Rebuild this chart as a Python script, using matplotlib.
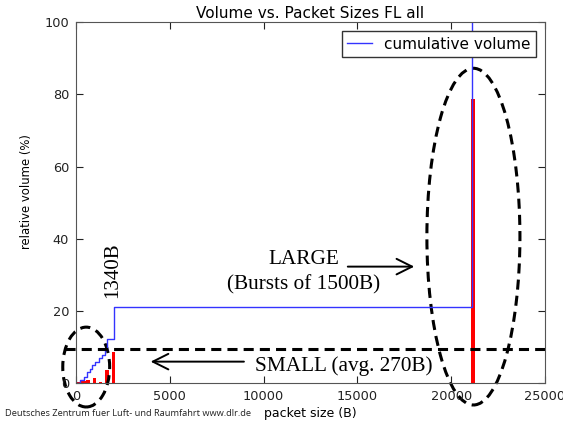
import matplotlib
matplotlib.use('Agg')
import matplotlib.pyplot as plt
from matplotlib.patches import Ellipse

# packet size histogram (relative volume per bin, %)
bar_x = [100, 290, 460, 625, 980, 1300, 1645, 2000, 21180]
bar_h = [0.3, 0.7, 0.7, 0.9, 1.5, 0.3, 3.6, 8.8, 78.8]
bar_w = 200

# cumulative volume (%), step positions
cum_x = [0, 50, 235, 411, 587, 720, 854, 1035, 1211, 1387, 1569, 1654, 2012, 21100]
cum_y = [0, 0.2, 0.9, 1.8, 3.2, 4.1, 5.1, 6.0, 6.9, 7.8, 9.2, 12.2, 21.0, 100]

small_thr = 9.6

fig = plt.figure(figsize=(5.63, 4.32), dpi=100)
ax = fig.add_axes([0.135, 0.1127, 0.833, 0.8363])

ax.bar(bar_x, bar_h, width=bar_w, color='red', edgecolor='none', align='center')
ax.plot(cum_x, cum_y, color='#3333ff', lw=1.0, drawstyle='steps-post', label='cumulative volume')

ax.set_xlim(0, 25000)
ax.set_ylim(0, 100)
ax.set_xticks([0, 5000, 10000, 15000, 20000, 25000])
ax.set_yticks([0, 20, 40, 60, 80, 100])
ax.tick_params(direction='in', top=True, right=True, length=5, labelsize=9.3, colors='#222222', pad=5)
for sp in ax.spines.values():
    sp.set_color('#555555')
ax.set_title('Volume vs. Packet Sizes FL all', fontsize=11, pad=3)
ax.set_xlabel('packet size (B)', fontsize=9, labelpad=3)
ax.set_ylabel('relative volume (%)', fontsize=8.4)
ax.yaxis.set_label_coords(-0.092, 0.53)
leg = ax.legend(loc='upper right', fontsize=11, fancybox=False, framealpha=1, handlelength=1.6,
                borderaxespad=0.6, borderpad=0.35)
leg.get_frame().set_edgecolor('#333333')

# annotations
serif = 'Liberation Serif'
ax.plot([-600, 25000], [small_thr, small_thr], color='black', lw=2.2, dashes=(3.3, 2), clip_on=False)
ax.add_patch(Ellipse((21185, 40.6), 4960, 93.2, fill=False, ec='black', lw=2.2,
                     ls=(0, (3.3, 2)), clip_on=False))
ax.add_patch(Ellipse((544, 4.5), 2500, 22.1, angle=0, fill=False, ec='black', lw=2.2,
                     ls=(0, (3.3, 2)), clip_on=False))
ax.text(12150, 34.4, 'LARGE', family=serif, fontsize=15.3, ha='center', va='center')
ax.text(12150, 27.2, '(Bursts of 1500B)', family=serif, fontsize=15.3, ha='center', va='center')
ax.annotate('', xy=(18180, 32.3), xytext=(14340, 32.3),
            arrowprops=dict(arrowstyle='->', lw=1.4, mutation_scale=28, color='black'))
ax.text(14250, 4.8, 'SMALL (avg. 270B)', family=serif, fontsize=15.3, ha='center', va='center')
ax.annotate('', xy=(3830, 6.0), xytext=(9100, 6.0),
            arrowprops=dict(arrowstyle='->', lw=1.4, mutation_scale=28, color='black'))
ax.text(1980, 31.4, '1340B', family=serif, fontsize=15, rotation=90, ha='center', va='center')

fig.text(0.009, 0.042, 'Deutsches Zentrum fuer Luft- und Raumfahrt www.dlr.de', family='Open Sans',
         fontsize=6.7, ha='left', va='center', color='#222222')

fig.savefig('out.png', dpi=100)
